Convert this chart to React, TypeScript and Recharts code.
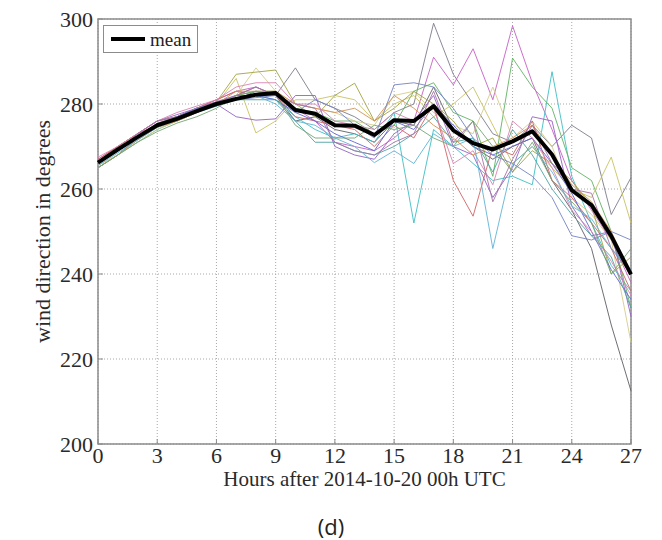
import React from "react";
import {
  CartesianGrid,
  Label,
  Legend,
  Line,
  LineChart,
  ReferenceArea,
  XAxis,
  YAxis,
} from "recharts";

// hours after 2014-10-20 00h UTC
const hours = [
  0, 1, 2, 3, 4, 5, 6, 7, 8, 9, 10, 11, 12, 13, 14, 15, 16, 17, 18, 19, 20, 21,
  22, 23, 24, 25, 26, 27,
];
const xTicks = [0, 3, 6, 9, 12, 15, 18, 21, 24, 27];
const yTicks = [200, 220, 240, 260, 280, 300];

const mean = [
  266.2, 269.3, 272.2, 275.0, 276.5, 278.3, 280.0, 281.2, 282.2, 282.6, 278.6,
  277.7, 275.0, 274.9, 272.7, 276.2, 276.0, 279.5, 273.8, 270.8, 269.3, 271.2,
  273.6, 268.1, 259.7, 256.2, 248.9, 239.9,
];

// ensemble members
const m1 = [266, 269, 272, 275.5, 277, 278, 280, 282, 284, 282, 288.5, 281, 279, 277, 274, 278, 280, 299, 287, 280, 273, 271, 275, 270, 275, 272, 254, 262.7];
const m2 = [265, 268, 272, 275, 276, 278, 280, 281, 283, 282, 276, 277, 274, 273, 271, 276, 275, 284, 274, 270, 267, 270, 272, 262, 255, 246, 228, 212.5];
const m3 = [267, 270, 273, 276, 277, 279, 281, 283, 284, 282, 279, 276, 271, 270, 269, 272, 276, 291, 284.5, 293, 281, 298.4, 285, 274, 262, 255, 248, 238];
const m4 = [265, 268, 271, 274, 276, 278, 279.5, 281, 282, 281, 277, 274, 272, 273, 271, 278, 252, 274, 270, 266, 262, 263, 261, 287.6, 263, 252, 242, 236];
const m5 = [266, 269, 272, 275, 277, 278.5, 280, 282, 283, 283, 279, 278, 276, 276, 273, 275, 283, 285, 278, 276, 263, 290.8, 284, 279, 265, 262, 250, 232];
const m6 = [266, 269, 272, 274.5, 276, 278, 280, 286, 273.2, 276, 281, 281, 282, 281, 276, 280, 282, 277, 280, 284, 275, 266, 270, 265, 260, 258, 267.5, 252];
const m7 = [265.5, 268, 271, 274, 276, 278, 280, 282, 288.5, 283, 280, 279, 278, 276, 275, 282, 283, 278, 275, 273, 284, 272, 276, 270, 258, 254, 248, 223.9];
const m8 = [266.5, 270, 273, 276, 277, 279, 280.5, 287, 287.5, 288, 280, 277, 282, 284.9, 276, 279, 283, 280, 276, 270, 272, 264, 269, 266, 262, 256, 240, 244];
const m9 = [267, 270, 273, 275, 277, 279, 281, 283, 282, 282, 277, 276, 275, 274, 270, 275, 272, 280, 262, 253.6, 270, 268, 276, 262, 258, 252, 246, 236];
const m10 = [266, 269, 273, 276, 277.5, 279, 280, 277, 276.2, 276.5, 282, 282, 270, 268, 267, 273, 276, 282, 270, 268, 258, 265, 277, 276, 256, 249, 250, 230];
const m11 = [266, 269, 272, 275, 277, 279, 280.5, 282, 282, 281, 278, 276, 273, 271, 269, 276, 274, 280, 275, 270, 268, 270, 272, 266, 259, 250, 241, 234];
const m12 = [265, 268, 271.5, 274.5, 276, 278, 280, 283, 283, 283, 280, 279, 278, 279, 276, 282, 279, 275, 272, 268, 270, 272, 275, 268, 261, 257, 250, 240];
const m13 = [266, 269, 272, 275, 276.5, 278, 280, 281, 281, 281, 276, 271, 271, 269, 268, 270, 273, 277, 271, 272, 264, 274, 268, 260, 254, 249, 244, 232];
const m14 = [267.5, 270, 273, 276, 278, 279.5, 281, 284, 285, 285, 280, 280, 276, 275, 274, 278, 276, 279, 266, 269, 261, 276, 272, 265, 255, 250, 243, 235];
const m15 = [265, 268, 271, 273.5, 275.5, 277, 279, 282, 283, 282, 275, 272, 272, 272, 275, 274, 275, 272, 270, 276, 270, 264, 271, 262, 257, 252, 240, 246];
const m16 = [266, 269, 273, 276, 277, 279, 280.5, 282, 284, 282, 280, 279, 271, 269, 268, 271, 273, 283, 271, 276, 257, 267, 275, 266, 260, 259, 246, 240];
const m17 = [266.5, 269, 272, 275, 277, 279, 280, 281, 281.5, 282, 278, 281, 279, 275, 272, 284.5, 285, 284, 279, 272, 268, 266, 263, 258, 249, 248, 250, 248];
const m18 = [265.5, 268.5, 271.5, 274.5, 276.5, 278.5, 280, 281.5, 282, 280, 276, 275, 272, 270, 266.2, 269, 266, 273, 270, 272, 246, 266, 270, 264, 256, 253, 246, 241];

const members = [m1, m2, m3, m4, m5, m6, m7, m8, m9, m10, m11, m12, m13, m14, m15, m16, m17, m18];
const memberColors = [
  "#7c7c8c", "#5e5e66", "#c462c4", "#3fbfc4", "#62b262", "#c9c262",
  "#d6cc8c", "#a3a342", "#d06464", "#9464c4", "#6464d0", "#d49254",
  "#4fa3a3", "#d884b4", "#73a673", "#a673a6", "#7484c4", "#62b4d4",
];

const data = hours.map((h, i) => {
  const row: Record<string, number> = { h, mean: mean[i] };
  members.forEach((m, k) => {
    row[`m${k + 1}`] = m[i];
  });
  return row;
});

const SERIF = '"Liberation Serif", "Times New Roman", serif';
const tickStyle = { fontSize: 22, fill: "#2a2a2a", fontFamily: SERIF };

function MeanLegend() {
  return (
    <div
      style={{
        boxSizing: "border-box",
        width: 95,
        height: 28,
        border: "1px solid #8c8c8c",
        background: "#fff",
        display: "flex",
        alignItems: "center",
        fontFamily: SERIF,
        fontSize: 19,
        color: "#222",
      }}
    >
      <span style={{ display: "inline-block", width: 34, height: 4, background: "#000", marginLeft: 7, marginRight: 5 }} />
      <span style={{ lineHeight: "19px" }}>mean</span>
    </div>
  );
}

function YTitle({ viewBox }: any) {
  const cx = viewBox.x + 4;
  const cy = viewBox.y + viewBox.height / 2;
  return (
    <text
      x={cx}
      y={cy}
      transform={`rotate(-90, ${cx}, ${cy})`}
      textAnchor="middle"
      dominantBaseline="central"
      style={{ fontSize: 22, fill: "#2a2a2a", fontFamily: SERIF }}
    >
      wind direction in degrees
    </text>
  );
}

export default function App() {
  return (
    <div style={{ position: "absolute", left: 0, top: 0, width: 662, height: 540, background: "#fff" }}>
      <LineChart width={662} height={540} data={data} margin={{ top: 19, right: 31, left: 38, bottom: 76 }}>
        <CartesianGrid stroke="#a8a8a8" strokeDasharray="1 2" />
        <XAxis
          dataKey="h"
          type="number"
          domain={[0, 27]}
          ticks={xTicks}
          interval={0}
          height={20}
          axisLine={false}
          tickLine={{ stroke: "#8c8c8c" }}
          tickSize={-5}
          tickMargin={8}
          tick={tickStyle}
        >
          <Label
            value="Hours after 2014-10-20 00h UTC"
            position="bottom"
            offset={7}
            style={{ fontSize: 21, fill: "#2a2a2a", fontFamily: SERIF }}
          />
        </XAxis>
        <YAxis
          type="number"
          domain={[200, 300]}
          ticks={yTicks}
          interval={0}
          width={60}
          axisLine={false}
          tickLine={{ stroke: "#8c8c8c" }}
          tickSize={-5}
          tickMargin={10}
          tick={tickStyle}
        >
          <Label content={YTitle} />
        </YAxis>
        {members.map((_, k) => (
          <Line
            key={k}
            type="linear"
            dataKey={`m${k + 1}`}
            stroke={memberColors[k]}
            strokeWidth={1}
            strokeOpacity={0.9}
            dot={false}
            legendType="none"
            isAnimationActive={false}
          />
        ))}
        <Line
          type="linear"
          dataKey="mean"
          name="mean"
          stroke="#000"
          strokeWidth={4}
          strokeLinejoin="round"
          dot={false}
          isAnimationActive={false}
        />
        <ReferenceArea x1={0} x2={27} y1={200} y2={300} fill="none" stroke="#8c8c8c" strokeWidth={1.5} />
        <Legend
          content={<MeanLegend />}
          layout="vertical"
          align="center"
          verticalAlign="middle"
          wrapperStyle={{ left: 103, top: 25, width: 95 }}
        />
      </LineChart>
      <div
        style={{
          position: "absolute",
          left: 0,
          width: 662,
          top: 511,
          textAlign: "center",
          fontFamily: '"Open Sans", "Noto Sans", sans-serif',
          fontSize: 22,
          color: "#222",
        }}
      >
        (d)
      </div>
    </div>
  );
}
